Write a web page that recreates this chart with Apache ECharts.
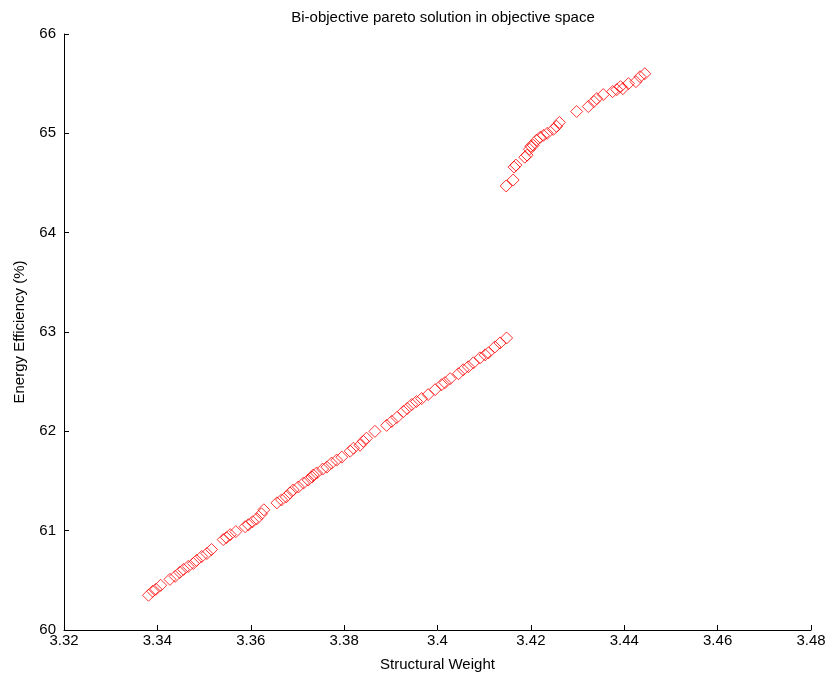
<!DOCTYPE html>
<html>
<head>
<meta charset="utf-8">
<script src="https://cdn.jsdelivr.net/npm/echarts@6/dist/echarts.min.js"></script>
<style>
  html, body { margin: 0; padding: 0; background: #fff; }
  #chart { width: 837px; height: 679px; }
</style>
</head>
<body>
<div id="chart"></div>
<script>
// lower branch of the front
const lowerWeight = [3.3381, 3.3390, 3.3397, 3.3407, 3.3427, 3.3438, 3.3448, 3.3456, 3.3466, 3.3477,
  3.3484, 3.3495, 3.3506, 3.3516, 3.3541, 3.3548, 3.3556, 3.3568, 3.3588, 3.3595,
  3.3604, 3.3613, 3.3623, 3.3628, 3.3656, 3.3666, 3.3676, 3.3684, 3.3691, 3.3702,
  3.3713, 3.3723, 3.3731, 3.3734, 3.3741, 3.3754, 3.3763, 3.3773, 3.3784, 3.3795,
  3.3813, 3.3820, 3.3834, 3.3841, 3.3848, 3.3866, 3.3891, 3.3902, 3.3913, 3.3927,
  3.3935, 3.3945, 3.3955, 3.3966, 3.3980, 3.3995, 3.4009, 3.4016, 3.4027, 3.4045,
  3.4055, 3.4066, 3.4077, 3.4091, 3.4102, 3.4109, 3.4123, 3.4134, 3.4148];
const lowerEff = [60.35, 60.39, 60.41, 60.45, 60.51, 60.54, 60.58, 60.61, 60.64, 60.67,
  60.70, 60.74, 60.77, 60.81, 60.91, 60.93, 60.96, 60.99, 61.04, 61.06,
  61.09, 61.12, 61.17, 61.21, 61.28, 61.31, 61.34, 61.38, 61.41, 61.44,
  61.48, 61.51, 61.54, 61.56, 61.58, 61.62, 61.64, 61.68, 61.71, 61.74,
  61.80, 61.83, 61.86, 61.90, 61.93, 62.00, 62.06, 62.10, 62.14, 62.20,
  62.23, 62.27, 62.30, 62.33, 62.37, 62.42, 62.47, 62.49, 62.53, 62.58,
  62.62, 62.65, 62.69, 62.74, 62.77, 62.79, 62.85, 62.89, 62.94];

// upper branch
const upperWeight = [3.4147, 3.4162, 3.4164, 3.4168, 3.4187, 3.4192, 3.4197, 3.4200, 3.4205, 3.4212,
  3.4220, 3.4227, 3.4235, 3.4248, 3.4255, 3.4261, 3.4298, 3.4323, 3.4335, 3.4341,
  3.4355, 3.4375, 3.4384, 3.4392, 3.4397, 3.4409, 3.4425, 3.4434, 3.4444];
const upperEff = [64.47, 64.53, 64.66, 64.68, 64.76, 64.78, 64.84, 64.87, 64.88, 64.93,
  64.96, 64.98, 65.00, 65.04, 65.07, 65.11, 65.22, 65.27, 65.32, 65.35,
  65.39, 65.42, 65.44, 65.47, 65.45, 65.50, 65.52, 65.57, 65.60];

const xTicks = [3.32, 3.34, 3.36, 3.38, 3.4, 3.42, 3.44, 3.46, 3.48];
const yTicks = [60, 61, 62, 63, 64, 65, 66];

const points = lowerWeight.map((w, i) => [w, lowerEff[i]])
  .concat(upperWeight.map((w, i) => [w, upperEff[i]]));

const font = "Liberation Sans, Arial, sans-serif";
const chart = echarts.init(document.getElementById("chart"));
chart.setOption({
  animation: false,
  title: {
    text: "Bi-objective pareto solution in objective space",
    left: 438,
    textAlign: "center",
    top: 5,
    textStyle: { fontFamily: font, fontSize: 15, fontWeight: "normal", color: "#000" }
  },
  grid: { left: 64, right: 26, top: 34, bottom: 49 },
  xAxis: {
    type: "value",
    min: 3.32,
    max: 3.48,
    interval: 0.02,
    name: "Structural Weight",
    nameLocation: "middle",
    nameGap: 27,
    nameTextStyle: { fontFamily: font, fontSize: 15, color: "#000" },
    axisLine: { lineStyle: { color: "#000", width: 1 } },
    axisTick: { inside: true, length: 5, lineStyle: { color: "#000" } },
    splitLine: { show: false },
    axisLabel: {
      fontFamily: font, fontSize: 15, color: "#000", margin: 3,
      formatter: v => {
        const t = xTicks.find(k => Math.abs(k - v) < 1e-6);
        return t === undefined ? "" : String(t);
      }
    }
  },
  yAxis: {
    type: "value",
    min: 60,
    max: 66,
    interval: 1,
    name: "Energy Efficiency (%)",
    nameLocation: "middle",
    nameGap: 37,
    nameTextStyle: { fontFamily: font, fontSize: 15, color: "#000" },
    axisLine: { show: true, lineStyle: { color: "#000", width: 1 } },
    axisTick: { show: true, inside: true, length: 5, lineStyle: { color: "#000" } },
    splitLine: { show: false },
    axisLabel: {
      fontFamily: font, fontSize: 15, color: "#000", margin: 8,
      formatter: v => (yTicks.includes(v) ? String(v) : "")
    }
  },
  series: [{
    type: "scatter",
    data: points,
    silent: true,
    emphasis: { disabled: true },
    symbol: "path://M0,-1 L1,0 L0,1 L-1,0 Z",
    symbolSize: 12,
    itemStyle: { color: "rgba(0,0,0,0)", borderColor: "#ff0000", borderWidth: 1 }
  }]
});
</script>
</body>
</html>
